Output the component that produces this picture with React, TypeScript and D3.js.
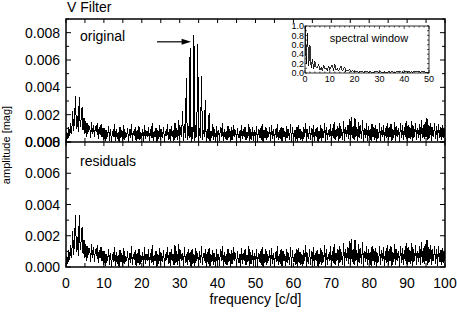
import React from 'react';
import * as d3 from 'd3';

// amplitude spectra, frequency step 0.25 c/d from 0 to 100, amplitude in 1e-5 mag
const FREQ_STEP = 0.25;
const residualAmp = [
  5, 70, 20, 110, 45, 140, 60, 230, 80, 160, 335, 95, 190, 70, 330, 110, 170, 255, 85, 175,
  60, 150, 40, 135, 75, 120, 30, 145, 60, 125, 35, 115, 70, 140, 25, 110, 55, 130, 40, 105,
  15, 100, 5, 85, 40, 118, 10, 92, 0, 80, 35, 128, 8, 96, 22, 75, 2, 108, 30, 88,
  6, 122, 18, 70, 38, 102, 0, 92, 28, 132, 10, 82, 42, 106, 4, 88, 24, 118, 12, 76,
  32, 98, 3, 126, 20, 82, 40, 112, 6, 92, 28, 138, 10, 78, 36, 102, 0, 86, 22, 122,
  14, 92, 30, 108, 2, 80, 44, 128, 18, 96, 5, 118, 36, 86, 10, 142, 26, 100, 12, 148,
  20, 106, 40, 92, 4, 128, 28, 86, 12, 116, 32, 96, 0, 112, 22, 82, 8, 122, 36, 92,
  5, 102, 26, 132, 12, 86, 40, 112, 0, 96, 22, 122, 8, 82, 30, 106, 16, 92, 0, 116,
  28, 86, 8, 112, 36, 136, 4, 96, 20, 80, 12, 118, 32, 92, 0, 106, 18, 126, 40, 86,
  10, 100, 26, 82, 0, 122, 22, 92, 36, 112, 12, 76, 30, 132, 4, 96, 18, 106, 8, 88,
  22, 116, 3, 92, 32, 102, 12, 128, 0, 86, 26, 112, 16, 82, 36, 106, 8, 122, 20, 92,
  0, 96, 30, 132, 12, 86, 22, 112, 4, 102, 36, 80, 8, 118, 26, 92, 16, 128, 2, 106,
  30, 86, 10, 112, 0, 122, 26, 96, 16, 82, 6, 106, 36, 138, 2, 92, 20, 116, 12, 102,
  26, 126, 8, 92, 36, 106, 2, 82, 20, 122, 10, 96, 30, 142, 0, 112, 16, 86, 36, 132,
  8, 102, 26, 146, 12, 92, 40, 116, 4, 136, 30, 96, 16, 156, 6, 112, 36, 126, 20, 166,
  12, 182, 32, 116, 16, 172, 36, 106, 6, 146, 26, 122, 20, 162, 2, 102, 30, 136, 10, 116,
  26, 96, 6, 132, 36, 112, 16, 122, 0, 92, 30, 136, 10, 106, 40, 126, 6, 102, 26, 142,
  16, 112, 36, 132, 6, 96, 30, 146, 10, 116, 40, 102, 2, 136, 26, 122, 16, 106, 36, 152,
  10, 126, 30, 106, 20, 156, 6, 116, 36, 142, 16, 102, 30, 132, 10, 162, 26, 122, 20, 146,
  36, 172, 16, 126, 30, 142, 10, 112, 36, 136, 20, 116, 6, 132, 30, 106, 16, 122, 26, 96,
  40,
];

// pulsation peaks present only in the original spectrum
const pulsationFreq = [29.75, 30.75, 31.75, 32.75, 33.75, 34.75, 35.75, 36.75, 37.75, 38.75];
const pulsationAmp = [160, 230, 470, 690, 780, 720, 480, 310, 210, 130];

// spectral window, step 0.5 c/d from 0 to 50, in 1e-2
const WINDOW_STEP = 0.5;
const windowPower = [
  100, 20, 85, 15, 60, 10, 30, 8, 25, 12, 10, 20, 6, 12, 5, 17, 8, 10, 4, 15,
  7, 12, 18, 5, 20, 6, 10, 4, 9, 15, 5, 8, 12, 3, 7, 4, 8, 2, 5, 3,
  4, 2, 3, 1, 4, 2, 3, 1, 3, 2, 4, 1, 3, 2, 2, 1, 3, 2, 4, 1,
  3, 2, 2, 1, 3, 1, 2, 2, 4, 1, 3, 2, 2, 1, 3, 2, 4, 2, 5, 1,
  3, 2, 4, 1, 5, 2, 3, 1, 4, 2, 3, 2, 4, 1, 3, 2, 3, 1, 2, 1,
  2,
];

const xTicks = [0, 10, 20, 30, 40, 50, 60, 70, 80, 90, 100];
const yTicks = [0, 0.002, 0.004, 0.006, 0.008];
const insetXTicks = [0, 10, 20, 30, 40, 50];
const insetYTicks = [0, 0.2, 0.4, 0.6, 0.8, 1.0];

const W = 457;
const H = 318;
const FONT = 'Liberation Sans, Arial, sans-serif';

const App: React.FC = () => {
  const left = 66, right = 445, top = 19, mid = 142, bottom = 267;

  const x = d3.scaleLinear().domain([0, 100]).range([left, right]);
  const yTop = d3.scaleLinear().domain([0, 0.009]).range([mid, top]);
  const yBot = d3.scaleLinear().domain([0, 0.008]).range([bottom, mid]);

  const residual = residualAmp.map((a, i) => ({ f: i * FREQ_STEP, a: a * 1e-5 }));
  const original = residualAmp.map((a, i) => {
    const f = i * FREQ_STEP;
    const k = pulsationFreq.indexOf(f);
    return { f, a: (k >= 0 ? pulsationAmp[k] : a) * 1e-5 };
  });

  const topLine = d3.line<{ f: number; a: number }>().x(d => x(d.f)).y(d => yTop(d.a));
  const botLine = d3.line<{ f: number; a: number }>().x(d => x(d.f)).y(d => yBot(d.a));

  // inset
  const iL = 305, iR = 429, iT = 26, iB = 73;
  const ix = d3.scaleLinear().domain([0, 50]).range([iL, iR]);
  const iy = d3.scaleLinear().domain([0, 1]).range([iB, iT]);
  const win = windowPower.map((p, i) => ({ f: i * WINDOW_STEP, p: p / 100 }));
  const winLine = d3.line<{ f: number; p: number }>().x(d => ix(d.f)).y(d => iy(d.p));

  const xMinor = d3.range(0, 101, 5);
  const yMinorTop = d3.range(0, 0.0095, 0.001);
  const yMinorBot = d3.range(0, 0.0085, 0.001);

  const arrowY = yTop(0.00733);

  return (
    <svg width={W} height={H} style={{ position: 'absolute', left: 0, top: 0, background: '#fff' }} fontFamily={FONT}>
      <defs>
        <clipPath id="clipTop"><rect x={left} y={top} width={right - left} height={mid - top} /></clipPath>
        <clipPath id="clipBot"><rect x={left} y={mid} width={right - left} height={bottom - mid} /></clipPath>
      </defs>

      <text x={67} y={12} fontSize={14}>V Filter</text>

      {/* spectra */}
      <path d={topLine(original) || ''} fill="none" stroke="#000" strokeWidth={1} shapeRendering="crispEdges" clipPath="url(#clipTop)" />
      <path d={botLine(residual) || ''} fill="none" stroke="#000" strokeWidth={1} shapeRendering="crispEdges" clipPath="url(#clipBot)" />

      {/* x ticks on top, middle and bottom */}
      {xMinor.map(v => (
        <g key={'xt' + v} stroke="#000" strokeWidth={1}>
          <line x1={x(v)} x2={x(v)} y1={top} y2={top + 4} />
          <line x1={x(v)} x2={x(v)} y1={mid - 4} y2={mid + 4} />
          <line x1={x(v)} x2={x(v)} y1={bottom} y2={bottom - 4} />
        </g>
      ))}

      {/* y ticks */}
      {yMinorTop.map(v => {
        const major = Math.abs(Math.round(v * 1000) % 2) === 0;
        const len = major ? 5 : 3;
        return (
          <g key={'yt' + v} stroke="#000" strokeWidth={1}>
            <line x1={left} x2={left + len} y1={yTop(v)} y2={yTop(v)} />
            <line x1={right} x2={right - len} y1={yTop(v)} y2={yTop(v)} />
          </g>
        );
      })}
      {yMinorBot.map(v => {
        const major = Math.abs(Math.round(v * 1000) % 2) === 0;
        const len = major ? 5 : 3;
        return (
          <g key={'yb' + v} stroke="#000" strokeWidth={1}>
            <line x1={left} x2={left + len} y1={yBot(v)} y2={yBot(v)} />
            <line x1={right} x2={right - len} y1={yBot(v)} y2={yBot(v)} />
          </g>
        );
      })}

      {/* frames */}
      <rect x={left} y={top} width={right - left} height={bottom - top} fill="none" stroke="#000" strokeWidth={1.5} />
      <line x1={left} x2={right} y1={mid} y2={mid} stroke="#000" strokeWidth={1.5} />

      {/* y tick labels */}
      {yTicks.map(v => (
        <text key={'lt' + v} x={60} y={yTop(v)} dy="0.36em" textAnchor="end" fontSize={14}>{v.toFixed(3)}</text>
      ))}
      {yTicks.map(v => (
        <text key={'lb' + v} x={60} y={yBot(v)} dy="0.36em" textAnchor="end" fontSize={14}>{v.toFixed(3)}</text>
      ))}

      {/* x tick labels */}
      {xTicks.map(v => (
        <text key={'xl' + v} x={x(v)} y={288} textAnchor="middle" fontSize={14}>{v}</text>
      ))}

      <text x={80} y={41} fontSize={14}>original</text>
      <text x={80} y={166} fontSize={14}>residuals</text>

      {/* arrow to the main peak */}
      <line x1={x(24)} x2={x(31)} y1={arrowY} y2={arrowY} stroke="#000" strokeWidth={1.2} />
      <path d={`M${x(33)},${arrowY} L${x(30.5)},${arrowY - 3} L${x(30.5)},${arrowY + 3} Z`} fill="#000" />

      <text x={(left + right) / 2} y={304} textAnchor="middle" fontSize={14}>frequency [c/d]</text>
      <text transform={`translate(10,${(top + bottom) / 2 + 2}) rotate(-90)`} textAnchor="middle" fontSize={11}>amplitude [mag]</text>

      {/* inset: spectral window */}
      <g>
        <rect x={iL} y={iT} width={iR - iL} height={iB - iT} fill="#fff" stroke="none" />
        <path d={winLine(win) || ''} fill="none" stroke="#000" strokeWidth={0.8} shapeRendering="crispEdges" />
        {d3.range(0, 51, 2).map(v => (
          <g key={'ixt' + v} stroke="#000" strokeWidth={0.7}>
            <line x1={ix(v)} x2={ix(v)} y1={iB} y2={iB - (v % 10 === 0 ? 3 : 1.5)} />
            <line x1={ix(v)} x2={ix(v)} y1={iT} y2={iT + (v % 10 === 0 ? 3 : 1.5)} />
          </g>
        ))}
        {d3.range(0, 1.01, 0.1).map(v => (
          <g key={'iyt' + v} stroke="#000" strokeWidth={0.7}>
            <line x1={iL} x2={iL + 2} y1={iy(v)} y2={iy(v)} />
            <line x1={iR} x2={iR - 2} y1={iy(v)} y2={iy(v)} />
          </g>
        ))}
        <rect x={iL} y={iT} width={iR - iL} height={iB - iT} fill="none" stroke="#000" strokeWidth={0.8} />
        {insetYTicks.map(v => (
          <text key={'iyl' + v} x={iL - 1} y={iy(v)} dy="0.36em" textAnchor="end" fontSize={9}>{v.toFixed(1)}</text>
        ))}
        {insetXTicks.map(v => (
          <text key={'ixl' + v} x={ix(v)} y={iB + 9} textAnchor="middle" fontSize={9}>{v}</text>
        ))}
        <text x={(iL + iR) / 2 + 2} y={42} textAnchor="middle" fontSize={11}>spectral window</text>
      </g>
    </svg>
  );
};

export default App;
